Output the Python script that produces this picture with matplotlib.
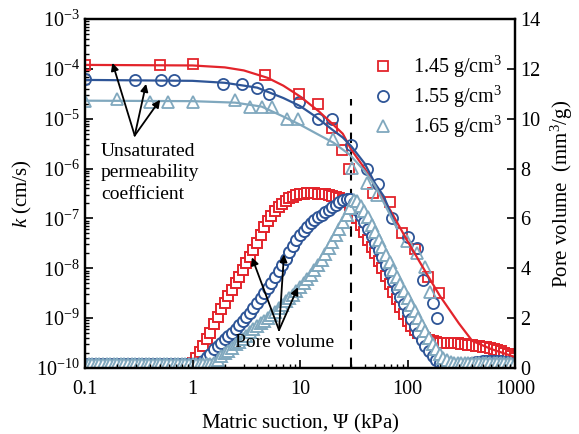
import matplotlib
matplotlib.use("Agg")
import matplotlib.pyplot as plt
from matplotlib.ticker import FixedLocator, FuncFormatter, LogLocator, NullFormatter
import numpy as np

plt.rcParams['font.family'] = ['Liberation Serif', 'DejaVu Serif']
plt.rcParams['mathtext.fontset'] = 'custom'
plt.rcParams['mathtext.rm'] = 'Liberation Serif'
plt.rcParams['mathtext.it'] = 'Liberation Serif:italic'
plt.rcParams['mathtext.bf'] = 'Liberation Serif:bold'

# ---------------- data ----------------
labels = ['1.45 g/cm$^3$', '1.55 g/cm$^3$', '1.65 g/cm$^3$']
colors = ['#E3242B', '#2E5597', '#80A8BE']
markers = ['s', 'o', '^']

# measured permeability (kPa, cm/s)
k145_x = [0.1, 0.5, 1.0, 4.7, 9.8, 14.7, 19.9, 24.6, 28.5, 47.7, 68.7, 88.9, 117, 155, 195]
k145_y = [1.2e-4, 1.2e-4, 1.25e-4, 7.6e-5, 3.2e-5, 2.0e-5, 6.6e-6, 2.4e-6, 1.0e-6,
          3.3e-7, 2.1e-7, 5.2e-8, 2.4e-8, 6.6e-9, 3.2e-9]
k155_x = [0.1, 0.29, 0.51, 0.67, 1.92, 2.89, 3.97, 5.1, 9.8, 14.7, 19.9, 29.9, 42, 53, 72,
          101, 122, 139, 173, 188]
k155_y = [6.3e-5, 6.0e-5, 6.0e-5, 6.0e-5, 5.0e-5, 5.0e-5, 4.2e-5, 3.2e-5, 2.2e-5, 1.0e-5,
          1.0e-5, 3.0e-6, 1.0e-6, 5.0e-7, 1.0e-7, 4.2e-8, 2.6e-8, 5.8e-9, 2.0e-9, 1.0e-9]
k165_x = [0.1, 0.2, 0.4, 0.59, 1.0, 2.5, 3.4, 4.4, 5.5, 7.6, 9.5, 20.3, 30.4, 42, 52, 99,
          122, 146, 162]
k165_y = [2.3e-5, 2.5e-5, 2.2e-5, 2.2e-5, 2.2e-5, 2.4e-5, 1.7e-5, 1.7e-5, 1.7e-5, 1.0e-5,
          1.0e-5, 4.0e-6, 1.05e-6, 5.2e-7, 2.9e-7, 3.6e-8, 2.0e-8, 1.05e-8, 3.3e-9]

# fitted permeability curves
fit145_x = [0.1, 1, 2, 3, 5, 7, 10, 15, 20, 25, 30, 40, 50, 70, 100, 150, 200, 300, 400, 600, 1000]
fit145_y = [1.2e-4, 1.17e-4, 1.07e-4, 9.3e-5, 6.6e-5, 4.6e-5, 2.8e-5, 1.4e-5, 7.9e-6, 5.0e-6,
            2.4e-6, 1.0e-6, 4.5e-7, 1.4e-7, 3.5e-8, 7.9e-9, 2.8e-9, 7.9e-10, 3.5e-10,
            2.4e-10, 1.66e-10]
fit155_x = [0.1, 1, 2, 4, 7, 10, 14, 20, 25, 30, 40, 50, 60, 80]
fit155_y = [6.0e-5, 5.75e-5, 5.25e-5, 4.2e-5, 2.6e-5, 1.8e-5, 1.1e-5, 6.0e-6, 4.2e-6, 2.8e-6,
            1.26e-6, 5.0e-7, 2.8e-7, 6.3e-8]
fit165_x = [0.1, 1, 2.5, 4.4, 6.9, 10, 14.3, 20.5, 29, 40, 50, 70, 80]
fit165_y = [2.3e-5, 2.25e-5, 2.1e-5, 1.75e-5, 1.12e-5, 7.6e-6, 5.0e-6, 3.3e-6, 1.9e-6, 8.9e-7,
            4.5e-7, 1.1e-7, 6.3e-8]

# pore volume distribution (kPa, mm3/g)
pv_x = [0.1, 0.108, 0.1166, 0.1259, 0.1359, 0.1468, 0.1585, 0.1711, 0.1848, 0.1995,
        0.2154, 0.2326, 0.2512, 0.2712, 0.2929, 0.3162, 0.3415, 0.3687, 0.3981, 0.4299,
        0.4642, 0.5012, 0.5412, 0.5843, 0.631, 0.6813, 0.7356, 0.7943, 0.8577, 0.9261,
        1.0, 1.08, 1.166, 1.259, 1.359, 1.468, 1.585, 1.711, 1.848, 1.995,
        2.154, 2.326, 2.512, 2.712, 2.929, 3.162, 3.415, 3.687, 3.981, 4.299,
        4.642, 5.012, 5.412, 5.843, 6.31, 6.813, 7.356, 7.943, 8.577, 9.261,
        10.0, 10.8, 11.66, 12.59, 13.59, 14.68, 15.85, 17.11, 18.48, 19.95,
        21.54, 23.26, 25.12, 27.12, 29.29, 31.62, 34.15, 36.87, 39.81, 42.99,
        46.42, 50.12, 54.12, 58.43, 63.1, 68.13, 73.56, 79.43, 85.77, 92.61,
        100.0, 108.0, 116.6, 125.9, 135.9, 146.8, 158.5, 171.1, 184.8, 199.5,
        215.4, 232.6, 251.2, 271.2, 292.9, 316.2, 341.5, 368.7, 398.1, 429.9,
        464.2, 501.2, 541.2, 584.3, 631.0, 681.3, 735.6, 794.3, 857.7, 926.1, 1000.0]
pv145 = [0.15, 0.15, 0.15, 0.15, 0.15, 0.15, 0.15, 0.15, 0.15, 0.15,
         0.15, 0.15, 0.15, 0.15, 0.15, 0.15, 0.15, 0.15, 0.15, 0.15,
         0.15, 0.15, 0.15, 0.15, 0.15, 0.15, 0.15, 0.15, 0.15, 0.15,
         0.2, 0.4, 0.65, 0.9, 1.17, 1.42, 1.75, 2.05, 2.35, 2.6,
         2.87, 3.12, 3.4, 3.67, 3.93, 4.2, 4.47, 4.73, 5.0, 5.33,
         5.65, 5.9, 6.1, 6.28, 6.45, 6.58, 6.7, 6.8, 6.87, 6.93,
         6.97, 6.99, 7.01, 7.02, 7.01, 7.0, 6.98, 6.96, 6.93, 6.9,
         6.87, 6.82, 6.75, 6.66, 6.52, 6.3, 6.03, 5.75, 5.45, 5.15,
         4.87, 4.6, 4.3, 4.0, 3.7, 3.37, 3.05, 2.75, 2.45, 2.15,
         1.9, 1.7, 1.53, 1.4, 1.3, 1.21, 1.12, 1.07, 1.04, 1.02,
         1.01, 1.0, 1.0, 1.0, 0.99, 0.98, 0.96, 0.94, 0.92, 0.9,
         0.88, 0.86, 0.83, 0.8, 0.78, 0.73, 0.67, 0.62, 0.55, 0.48, 0.4]
pv155 = [0.15, 0.15, 0.15, 0.15, 0.15, 0.15, 0.15, 0.15, 0.15, 0.15,
         0.15, 0.15, 0.15, 0.15, 0.15, 0.15, 0.15, 0.15, 0.15, 0.15,
         0.15, 0.15, 0.15, 0.15, 0.15, 0.15, 0.15, 0.15, 0.15, 0.15,
         0.15, 0.15, 0.18, 0.3, 0.43, 0.58, 0.75, 0.88, 1.02, 1.15,
         1.28, 1.42, 1.55, 1.72, 1.88, 2.05, 2.22, 2.4, 2.6, 2.8,
         3.0, 3.2, 3.42, 3.65, 3.88, 4.12, 4.38, 4.65, 4.9, 5.12,
         5.33, 5.5, 5.65, 5.8, 5.93, 6.05, 6.15, 6.25, 6.35, 6.45,
         6.55, 6.64, 6.72, 6.78, 6.78, 6.6, 6.35, 6.1, 5.85, 5.58,
         5.3, 5.0, 4.73, 4.45, 4.15, 3.82, 3.48, 3.15, 2.85, 2.55,
         2.25, 1.95, 1.67, 1.4, 1.13, 0.9, 0.7, 0.5, 0.33, 0.2,
         0.13, 0.08, 0.05, 0.05, 0.07, 0.1, 0.13, 0.17, 0.2, 0.23,
         0.26, 0.28, 0.3, 0.3, 0.3, 0.29, 0.27, 0.25, 0.23, 0.22, 0.2]
pv165 = [0.15, 0.15, 0.15, 0.15, 0.15, 0.15, 0.15, 0.15, 0.15, 0.15,
         0.15, 0.15, 0.15, 0.15, 0.15, 0.15, 0.15, 0.15, 0.15, 0.15,
         0.15, 0.15, 0.15, 0.15, 0.15, 0.15, 0.15, 0.15, 0.15, 0.15,
         0.15, 0.15, 0.15, 0.15, 0.15, 0.15, 0.2, 0.33, 0.47, 0.6,
         0.7, 0.8, 0.95, 1.05, 1.15, 1.3, 1.43, 1.57, 1.7, 1.8,
         1.9, 2.0, 2.13, 2.26, 2.4, 2.53, 2.67, 2.8, 2.93, 3.08,
         3.25, 3.42, 3.58, 3.75, 3.95, 4.15, 4.35, 4.58, 4.82, 5.05,
         5.32, 5.58, 5.85, 6.12, 6.4, 6.72, 6.7, 6.5, 6.3, 6.05,
         5.75, 5.45, 5.15, 4.85, 4.55, 4.25, 3.95, 3.65, 3.35, 3.07,
         2.8, 2.53, 2.27, 2.0, 1.73, 1.47, 1.2, 0.97, 0.75, 0.55,
         0.42, 0.32, 0.25, 0.21, 0.2, 0.2, 0.2, 0.2, 0.2, 0.21,
         0.22, 0.22, 0.22, 0.22, 0.22, 0.22, 0.21, 0.21, 0.2, 0.2, 0.2]

dash_x = 30
dash_top = 10.8

x_ticks = [0.1, 1, 10, 100, 1000]
x_ticklabels = ['0.1', '1', '10', '100', '1000']
y2_ticks = [0, 2, 4, 6, 8, 10, 12, 14]

# ---------------- figure ----------------
fig = plt.figure(figsize=(5.79, 4.34), dpi=100)
fig.subplots_adjust(left=85/579, right=515/579, bottom=66/434, top=415/434)
ax = fig.add_subplot(111)
ax2 = ax.twinx()
ax.set_zorder(ax2.get_zorder() + 1)
ax.patch.set_visible(False)

# pore volume on right axis
ax2.plot([dash_x, dash_x], [0, dash_top], color='black', lw=1.5, ls=(0, (5, 4)), zorder=1)
for pv, c, m, ms in zip([pv145, pv155, pv165], colors, markers, [7.6, 8.0, 8.6]):
    ax2.plot(pv_x, pv, ls='none', marker=m, ms=ms, mfc='white', mec=c, mew=1.4, zorder=2)
ax2.set_ylim(0, 14)
ax2.set_xlim(0.1, 1000)
ax2.yaxis.set_major_locator(FixedLocator(y2_ticks))
ax2.tick_params(axis='y', direction='in', length=6, width=1.2, labelsize=14.5, pad=4)
ax2.set_ylabel('Pore volume  (mm$^3$/g)', fontsize=15, labelpad=6)

# permeability on left axis
kx = [k145_x, k155_x, k165_x]
ky = [k145_y, k155_y, k165_y]
fx = [fit145_x, fit155_x, fit165_x]
fy = [fit145_y, fit155_y, fit165_y]
handles = []
for i in range(3):
    h, = ax.plot(kx[i], ky[i], ls='none', marker=markers[i], ms=[7.5, 8, 8.5][i],
                 mfc='none', mec=colors[i], mew=1.3, label=labels[i])
    handles.append(h)
for i in range(3):
    ax.plot(fx[i], fy[i], color=colors[i], lw=1.6)

ax.set_xscale('log')
ax.set_yscale('log')
ax.set_xlim(0.1, 1000)
ax.set_ylim(1e-10, 1e-3)
ax.xaxis.set_major_locator(FixedLocator(x_ticks))
ax.xaxis.set_major_formatter(FuncFormatter(lambda v, p: x_ticklabels[x_ticks.index(v)] if v in x_ticks else ''))
ax.xaxis.set_minor_locator(LogLocator(base=10, subs=np.arange(2, 10), numticks=20))
ax.xaxis.set_minor_formatter(NullFormatter())
ax.yaxis.set_major_locator(LogLocator(base=10, numticks=20))
ax.yaxis.set_major_formatter(FuncFormatter(lambda v, p: r'10$^{%d}$' % int(round(np.log10(v)))))
ax.yaxis.set_minor_locator(LogLocator(base=10, subs=np.arange(2, 10), numticks=20))
ax.yaxis.set_minor_formatter(NullFormatter())
ax.tick_params(which='major', direction='in', length=6, width=1.2, labelsize=14.5, top=False, right=False)
ax.tick_params(which='minor', direction='in', length=3, width=1.0, top=False, right=False)
ax.tick_params(axis='x', pad=9)
ax.set_xlabel('Matric suction, $\\mathit{Ψ}$ (kPa)', fontsize=15, labelpad=9)
ax.set_ylabel(r'$k$ (cm/s)', fontsize=15, labelpad=2)

for a in (ax, ax2):
    for s in a.spines.values():
        s.set_linewidth(1.6)

leg = ax.legend(handles=handles, loc='upper left', bbox_to_anchor=(361/579, 1 - 44/434),
                bbox_transform=fig.transFigure, frameon=False, fontsize=14.5,
                handlelength=1.2, handletextpad=0.9, labelspacing=0.18, borderpad=0)

# annotations
arrow_kw = dict(arrowstyle='-|>', color='black', lw=1.3, mutation_scale=11, shrinkA=0, shrinkB=0)
ax.text(0.141, 10**-6.08, 'Unsaturated\npermeability\ncoefficient', fontsize=14,
        ha='left', va='center', linespacing=1.35)
for tx, ty in [(0.18, 1.32e-4), (0.37, 5.0e-5), (0.5, 2.4e-5)]:
    ax.annotate('', xy=(tx, ty), xytext=(0.29, 4.6e-6), arrowprops=arrow_kw)
ax.text(7.24, 10**-9.48, 'Pore volume', fontsize=14, ha='center', va='center')
for tx, ty in [(3.57, 10**-7.78), (7.1, 10**-7.72), (9.57, 10**-8.38)]:
    ax.annotate('', xy=(tx, ty), xytext=(6.38, 10**-9.24), arrowprops=arrow_kw)

fig.savefig('out.png', dpi=100)
